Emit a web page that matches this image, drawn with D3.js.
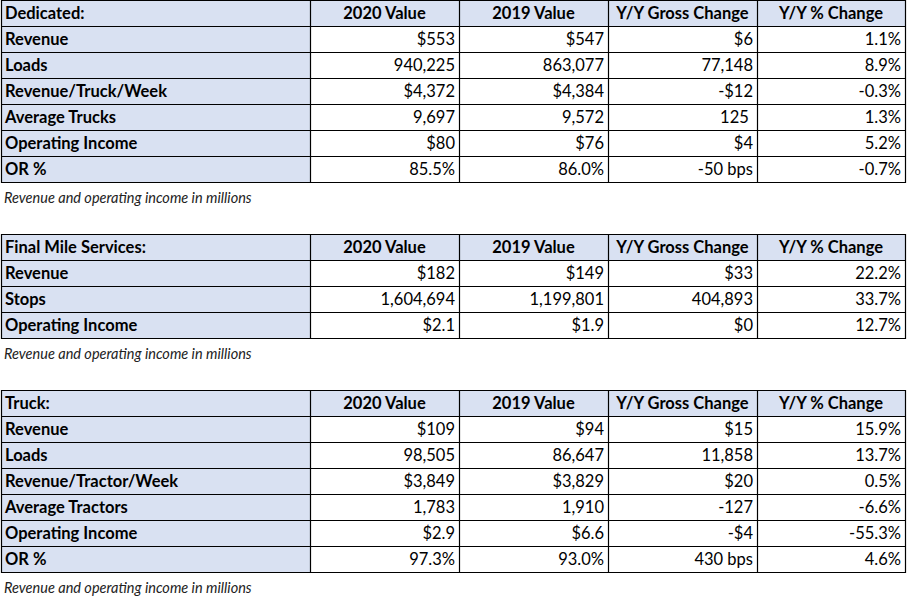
<!DOCTYPE html>
<html>
<head>
<meta charset="utf-8">
<script src="https://cdn.jsdelivr.net/npm/d3@7"></script>
<style>
  body { margin: 0; background: #fff; }
</style>
</head>
<body>
<div id="tables"></div>
<script>
// Column headers shared by all three tables
const columns = ["2020 Value", "2019 Value", "Y/Y Gross Change", "Y/Y % Change"];

// Dedicated
const dedicatedTitle = "Dedicated:";
const dedicatedLabels = ["Revenue", "Loads", "Revenue/Truck/Week", "Average Trucks", "Operating Income", "OR %"];
const dedicated2020 = ["$553", "940,225", "$4,372", "9,697", "$80", "85.5%"];
const dedicated2019 = ["$547", "863,077", "$4,384", "9,572", "$76", "86.0%"];
const dedicatedGross = ["$6", "77,148", "-$12", "125 ", "$4", "-50 bps"];
const dedicatedPct = ["1.1%", "8.9%", "-0.3%", "1.3%", "5.2%", "-0.7%"];

// Final Mile Services
const finalMileTitle = "Final Mile Services:";
const finalMileLabels = ["Revenue", "Stops", "Operating Income"];
const finalMile2020 = ["$182", "1,604,694", "$2.1"];
const finalMile2019 = ["$149", "1,199,801", "$1.9"];
const finalMileGross = ["$33", "404,893", "$0"];
const finalMilePct = ["22.2%", "33.7%", "12.7%"];

// Truck
const truckTitle = "Truck:";
const truckLabels = ["Revenue", "Loads", "Revenue/Tractor/Week", "Average Tractors", "Operating Income", "OR %"];
const truck2020 = ["$109", "98,505", "$3,849", "1,783", "$2.9", "97.3%"];
const truck2019 = ["$94", "86,647", "$3,829", "1,910", "$6.6", "93.0%"];
const truckGross = ["$15", "11,858", "$20", "-127", "-$4", "430 bps"];
const truckPct = ["15.9%", "13.7%", "0.5%", "-6.6%", "-55.3%", "4.6%"];

const footnote = "Revenue and operating income in millions";

// Layout
const width = 907;
const height = 599;
const rowHeight = 26;
const colEdges = [1, 310, 459, 608, 757, 905];
const headerFill = "#d9e1f2";
const font = "Lato, 'Open Sans', sans-serif";

const svg = d3.create("svg")
    .attr("width", width)
    .attr("height", height)
    .style("font-family", font);

function drawTable(top, title, labels, cols) {
    const nRows = labels.length + 1;
    const yscale = d3.scaleBand()
        .domain(d3.range(nRows))
        .range([top, top + nRows * rowHeight]);

    const g = svg.append("g");

    // build cell records: row 0 is header
    const cells = [];
    cells.push({ r: 0, c: 0, text: title, header: true, align: "start" });
    columns.forEach((h, i) => cells.push({ r: 0, c: i + 1, text: h, header: true, align: "middle" }));
    labels.forEach((lab, j) => {
        cells.push({ r: j + 1, c: 0, text: lab, header: true, align: "start" });
        cols.forEach((col, i) => cells.push({ r: j + 1, c: i + 1, text: col[j], header: false, align: "end" }));
    });

    // backgrounds
    g.selectAll("rect")
        .data(cells)
        .join("rect")
        .attr("x", d => colEdges[d.c])
        .attr("y", d => yscale(d.r))
        .attr("width", d => colEdges[d.c + 1] - colEdges[d.c])
        .attr("height", yscale.bandwidth())
        .attr("fill", d => d.header ? headerFill : "#fff");

    // text
    g.selectAll("text")
        .data(cells)
        .join("text")
        .attr("x", d => d.align === "start" ? colEdges[d.c] + 4
            : d.align === "middle" ? (colEdges[d.c] + colEdges[d.c + 1]) / 2
            : colEdges[d.c + 1] - 4)
        .attr("y", d => yscale(d.r) + yscale.bandwidth() / 2 + 2)
        .attr("dominant-baseline", "middle")
        .attr("text-anchor", d => d.align)
        .attr("font-size", 16.5)
        .attr("font-weight", d => d.header ? "bold" : "normal")
        .attr("fill", "#000")
        .style("white-space", "pre")
        .text(d => d.text);

    // horizontal grid lines
    g.selectAll("line.h")
        .data(d3.range(nRows + 1))
        .join("line")
        .attr("class", "h")
        .attr("x1", colEdges[0])
        .attr("x2", colEdges[colEdges.length - 1])
        .attr("y1", d => (d < nRows ? yscale(d) : top + nRows * rowHeight) + 0.5)
        .attr("y2", d => (d < nRows ? yscale(d) : top + nRows * rowHeight) + 0.5)
        .attr("stroke", "#000")
        .attr("stroke-width", 1.2);

    // vertical grid lines
    g.selectAll("line.v")
        .data(colEdges)
        .join("line")
        .attr("class", "v")
        .attr("x1", d => d + 0.5)
        .attr("x2", d => d + 0.5)
        .attr("y1", top)
        .attr("y2", top + nRows * rowHeight + 1)
        .attr("stroke", "#000")
        .attr("stroke-width", 1.2);

    // footnote
    svg.append("text")
        .attr("x", 4)
        .attr("y", top + nRows * rowHeight + 21)
        .attr("font-size", 14.5)
        .attr("font-style", "italic")
        .attr("fill", "#222")
        .text(footnote);
}

drawTable(0, dedicatedTitle, dedicatedLabels, [dedicated2020, dedicated2019, dedicatedGross, dedicatedPct]);
drawTable(234, finalMileTitle, finalMileLabels, [finalMile2020, finalMile2019, finalMileGross, finalMilePct]);
drawTable(390, truckTitle, truckLabels, [truck2020, truck2019, truckGross, truckPct]);

document.getElementById("tables").append(svg.node());
</script>
</body>
</html>
